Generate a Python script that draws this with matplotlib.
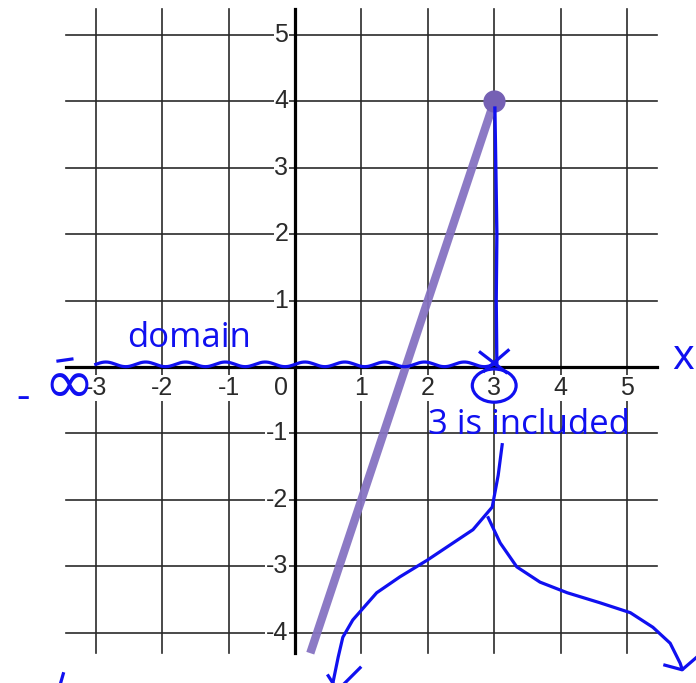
import numpy as np
import matplotlib.pyplot as plt
from matplotlib.patches import Ellipse

# graph window and ticks
x_ticks = [-3, -2, -1, 1, 2, 3, 4, 5]
y_ticks = [-4, -3, -2, -1, 1, 2, 3, 4, 5]
grid_x = (-3.45, 5.45)
grid_y = (-4.31, 5.39)

# y = 3x - 5, closed at (3, 4)
slope = 3
intercept = -5
x_end = 3

ink = '#1010f0'
purple = '#8673c2'

fig = plt.figure(figsize=(6.96, 6.83), dpi=100)
ax = fig.add_axes([0, 0, 1, 1])
ax.set_xlim(-4.443, 6.039)
ax.set_ylim(-4.759, 5.527)
ax.axis('off')

# grid
for gx in x_ticks:
    ax.plot([gx, gx], grid_y, color='#2a2a2a', lw=1.2, zorder=1)
for gy in y_ticks:
    ax.plot(grid_x, [gy, gy], color='#2a2a2a', lw=1.2, zorder=1)
ax.plot([0, 0], grid_y, color='black', lw=2.3, zorder=2)
ax.plot(grid_x, [0, 0], color='black', lw=2.3, zorder=2)

lab = dict(fontsize=18, color='#2a2a2a', family='Liberation Sans', zorder=3,
           bbox=dict(fc='white', ec='none', pad=0.6))
for gx in x_ticks:
    ax.text(gx, -0.32, str(gx), ha='center', va='center', **lab)
ax.text(-0.21, -0.32, '0', ha='center', va='center', **lab)
for gy in y_ticks:
    ax.text(-0.1, gy, str(gy), ha='right', va='center', **lab)

# the ray
x_start = (grid_y[0] - intercept) / slope
xs = np.array([x_start, x_end])
ax.plot(xs, slope * xs + intercept, color=purple, lw=6, alpha=0.95,
        solid_capstyle='butt', zorder=4)
ax.plot([x_end], [slope * x_end + intercept], 'o', color='#7560b4', ms=15, zorder=5)

# handwritten notes
hand = dict(color=ink, family='Open Sans', zorder=6)
ax.text(-1.6, 0.43, 'domain', ha='center', va='center', fontsize=25, **hand)
ax.text(5.85, 0.13, 'x', ha='center', va='center', fontsize=30, **hand)
ax.text(3.52, -0.87, '3 is included', ha='center', va='center', fontsize=25, **hand)
ax.text(-4.1, -0.46, '-', ha='center', va='center', fontsize=30, **hand)
ax.text(-3.4, -0.31, '∞', ha='center', va='center', fontsize=44, color=ink,
        family='DejaVu Sans', zorder=6)
ax.plot([-3.57, -3.36], [0.09, 0.12], color=ink, lw=2.3, zorder=6)

wx = np.linspace(-3.0, 3.0, 400)
ax.plot(wx, 0.04 + 0.035 * np.sin(wx * 2 * np.pi / 0.6), color=ink, lw=2.3, zorder=6)

ax.add_patch(Ellipse((3.0, -0.28), 0.66, 0.5, fill=False, ec=ink, lw=2.3, zorder=6))
ax.plot([2.79, 3.18], [0.22, -0.08], color=ink, lw=2.3, zorder=6)
ax.plot([3.21, 2.85], [0.25, -0.06], color=ink, lw=2.3, zorder=6)
ax.plot([3.01, 3.04, 3.03, 3.04], [3.9, 2.0, 1.0, 0.03], color=ink, lw=2.4, zorder=6)

left_x = [3.12, 3.06, 2.97, 2.68, 1.99, 1.58, 1.23, 0.87, 0.72, 0.65, 0.57]
left_y = [-1.17, -1.63, -2.11, -2.45, -2.91, -3.16, -3.40, -3.81, -4.07, -4.37, -4.76]
ax.plot(left_x, left_y, color=ink, lw=2.3, zorder=6)
ax.plot([0.98, 0.75], [-4.53, -4.76], color=ink, lw=2.3, zorder=6)
ax.plot([0.50, 0.57], [-4.65, -4.76], color=ink, lw=2.3, zorder=6)

right_x = [2.91, 3.09, 3.34, 3.69, 4.10, 4.59, 5.05, 5.39, 5.65, 5.80, 5.83]
right_y = [-2.27, -2.65, -3.01, -3.24, -3.40, -3.55, -3.70, -3.92, -4.16, -4.46, -4.55]
ax.plot(right_x, right_y, color=ink, lw=2.3, zorder=6)
ax.plot([5.57, 5.83, 6.05], [-4.49, -4.56, -4.37], color=ink, lw=2.3, zorder=6)
ax.plot([-3.49, -3.53], [-4.62, -4.76], color=ink, lw=2.3, zorder=6)

fig.savefig('out.png', dpi=100)
